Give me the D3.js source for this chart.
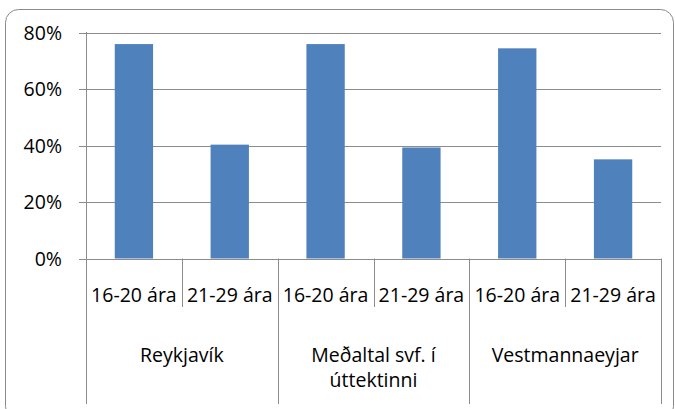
<!DOCTYPE html>
<html>
<head>
<meta charset="utf-8">
<script src="https://cdn.jsdelivr.net/npm/d3@7"></script>
<style>
  body { margin: 0; background: #fff; }
  text { font-family: "Open Sans", "Liberation Sans", sans-serif; fill: #000; }
</style>
</head>
<body>
<script>
// Chart data
var groups = ["Reykjavík", "Meðaltal svf. í úttektinni", "Vestmannaeyjar"];
var ages = ["16-20 ára", "21-29 ára"];
var values = [75.9, 40.3, 75.9, 39.3, 74.4, 35.1];
var yTicks = [0, 20, 40, 60, 80];

var svgWidth = 675;
var svgHeight = 409;

// plot area edges (note: "top" is reserved on window, so prefix these)
var plotLeft = 86, plotRight = 661, plotTop = 32.5, plotBottom = 258.5;
var innerSplitBottom = 307, outerBottom = 404;

var svg = d3.select("body")
  .append("svg")
  .attr("width", svgWidth)
  .attr("height", svgHeight);

// chart border
svg.append("rect")
  .attr("x", 5.5)
  .attr("y", 9.5)
  .attr("width", 668)
  .attr("height", 410)
  .attr("rx", 13)
  .attr("fill", "none")
  .attr("stroke", "#8a8a8a")
  .attr("stroke-width", 1);

// one row per bar
var rows = [];
groups.forEach(function(g, gi) {
  ages.forEach(function(a, ai) {
    rows.push({ key: gi + "|" + ai, group: g, age: a, value: values[gi * ages.length + ai] });
  });
});

var xScale = d3.scaleBand()
  .domain(rows.map(d => d.key))
  .range([plotLeft, plotRight])
  .paddingInner(0.6)
  .paddingOuter(0.3);

var yScale = d3.scaleLinear()
  .domain([0, 80])
  .range([plotBottom, plotTop]);

var step = xScale.step();
var crisp = v => Math.round(v) + 0.5;

// gridlines + ticks
svg.append("g").selectAll("line")
  .data(yTicks)
  .enter()
  .append("line")
  .attr("x1", plotLeft - 7)
  .attr("x2", plotRight)
  .attr("y1", d => crisp(yScale(d)))
  .attr("y2", d => crisp(yScale(d)))
  .attr("stroke", "#8c8c8c")
  .attr("stroke-width", 1);

// y labels
svg.append("g").selectAll("text")
  .data(yTicks)
  .enter()
  .append("text")
  .attr("x", 62)
  .attr("y", d => yScale(d))
  .attr("dy", "0.36em")
  .attr("text-anchor", "end")
  .style("font-size", "19.5px")
  .text(d => d + "%");

// bars
svg.append("g").selectAll("rect")
  .data(rows)
  .enter()
  .append("rect")
  .attr("x", d => xScale(d.key))
  .attr("y", d => yScale(d.value))
  .attr("width", xScale.bandwidth())
  .attr("height", d => yScale(0) - yScale(d.value))
  .attr("fill", "#4f81bd");

// category separators (first one is the value axis line)
var bounds = d3.range(rows.length + 1).map(i => plotLeft + i * step);
svg.append("g").selectAll("line")
  .data(bounds)
  .enter()
  .append("line")
  .attr("x1", d => crisp(d))
  .attr("x2", d => crisp(d))
  .attr("y1", (d, i) => i === 0 ? plotTop - 0.5 : plotBottom)
  .attr("y2", (d, i) => i % ages.length === 0 ? outerBottom : innerSplitBottom)
  .attr("stroke", "#8c8c8c")
  .attr("stroke-width", 1);

// axis baseline
svg.append("line")
  .attr("x1", plotLeft)
  .attr("x2", plotRight)
  .attr("y1", crisp(plotBottom))
  .attr("y2", crisp(plotBottom))
  .attr("stroke", "#8c8c8c");

// age labels
svg.append("g").selectAll("text")
  .data(rows)
  .enter()
  .append("text")
  .attr("x", d => xScale(d.key) + xScale.bandwidth() / 2)
  .attr("y", 301.5)
  .attr("text-anchor", "middle")
  .style("font-size", "19.5px")
  .text(d => d.age);

// group labels, wrapped to cell width
var groupWidth = step * ages.length;
var groupText = svg.append("g").selectAll("text")
  .data(groups)
  .enter()
  .append("text")
  .attr("x", (d, i) => plotLeft + groupWidth * (i + 0.5))
  .attr("y", 361.5)
  .attr("text-anchor", "middle")
  .style("font-size", "19.5px");

groupText.each(function(d) {
  var el = d3.select(this);
  var words = d.split(" ");
  var lines = [];
  var line = [];
  var probe = el.append("tspan");
  words.forEach(function(w) {
    var test = line.concat([w]).join(" ");
    probe.text(test);
    if (probe.node().getComputedTextLength() > groupWidth - 30 && line.length) {
      lines.push(line.join(" "));
      line = [w];
    } else {
      line.push(w);
    }
  });
  lines.push(line.join(" "));
  probe.remove();
  var x = el.attr("x");
  lines.forEach(function(l, li) {
    el.append("tspan")
      .attr("x", x)
      .attr("dy", li === 0 ? 0 : 25.5)
      .text(l);
  });
});
</script>
</body>
</html>
